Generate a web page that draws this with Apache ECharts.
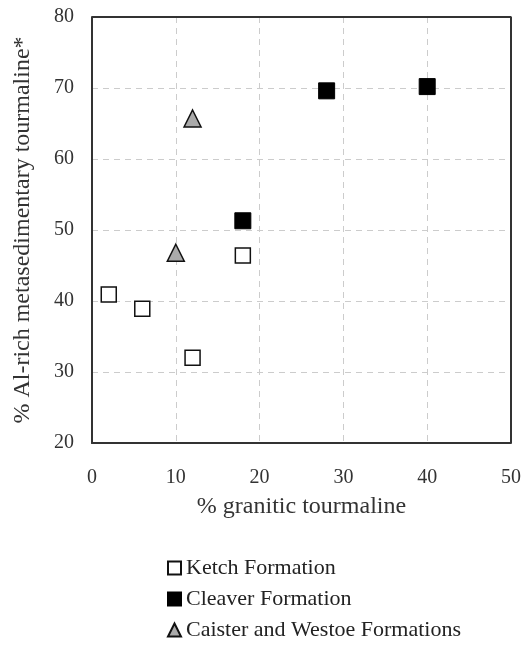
<!DOCTYPE html>
<html>
<head>
<meta charset="utf-8">
<script src="https://cdn.jsdelivr.net/npm/echarts@6/dist/echarts.min.js"></script>
<style>
  html, body { margin: 0; padding: 0; background: #fff; }
  #chart { width: 529px; height: 648px; }
</style>
</head>
<body>
<div id="chart"></div>
<script>
// data: [% granitic, % Al-rich metasedimentary]
const ketch = [[2, 40.9], [6, 38.9], [12, 32], [18, 46.4]];
const cleaver = [[18, 51.3], [28, 69.6], [40, 70.2]];
const caister = [[10, 46.8], [12, 65.7]];

const seriesNames = ['Ketch Formation', 'Cleaver Formation', 'Caister and Westoe Formations'];

const font = 'Liberation Serif';

const chart = echarts.init(document.getElementById('chart'));

const options = {
    backgroundColor: '#fff',
    animation: false,
    textStyle: { fontFamily: font },
    grid: {
        left: 92,
        right: 18,
        top: 17,
        bottom: 205,
        containLabel: false,
        outerBoundsMode: 'none'
    },
    legend: {
        orient: 'vertical',
        left: 167,
        top: 557,
        padding: 0,
        height: 90,
        itemGap: 9,
        itemWidth: 13,
        itemHeight: 13,
        data: seriesNames,
        textStyle: { fontFamily: font, fontSize: 22, lineHeight: 22, color: '#222' }
    },
    xAxis: {
        type: 'value',
        min: 0,
        max: 50,
        interval: 10,
        name: '% granitic tourmaline',
        nameLocation: 'middle',
        nameGap: 52,
        nameTextStyle: { fontFamily: font, fontSize: 24, color: '#333' },
        axisLine: { show: true, lineStyle: { color: '#333', width: 2 } },
        axisTick: { show: false },
        axisLabel: { fontFamily: font, fontSize: 20, color: '#333', margin: 25 },
        splitLine: { show: true, lineStyle: { color: '#ccc', type: [6, 5], width: 1 } }
    },
    yAxis: {
        type: 'value',
        min: 20,
        max: 80,
        interval: 10,
        name: '% Al-rich metasedimentary tourmaline*',
        nameLocation: 'middle',
        nameGap: 57,
        nameTextStyle: { fontFamily: font, fontSize: 24, color: '#333' },
        axisLine: { show: true, lineStyle: { color: '#333', width: 2 } },
        axisTick: { show: false },
        axisLabel: { fontFamily: font, fontSize: 20, color: '#333', margin: 18 },
        splitLine: { show: true, lineStyle: { color: '#ccc', type: [6, 5], width: 1 } }
    },
    series: [
        {
            name: seriesNames[0],
            type: 'scatter',
            data: ketch,
            symbol: 'rect',
            symbolSize: 15,
            itemStyle: { color: '#fff', borderColor: '#111', borderWidth: 1.5, opacity: 1 }
        },
        {
            name: seriesNames[1],
            type: 'scatter',
            data: cleaver,
            symbol: 'rect',
            symbolSize: 16,
            itemStyle: { color: '#000', borderColor: '#000', borderWidth: 1, opacity: 1 }
        },
        {
            name: seriesNames[2],
            type: 'scatter',
            data: caister,
            symbol: 'triangle',
            symbolSize: 17,
            itemStyle: { color: '#aaa', borderColor: '#111', borderWidth: 1.5, opacity: 1 }
        },
        {
            // frame round the plot (top and right edges)
            type: 'line',
            data: [[0, 80], [50, 80], [50, 20]],
            symbol: 'none',
            silent: true,
            lineStyle: { color: '#333', width: 2 },
            z: 1
        }
    ]
};

chart.setOption(options);
</script>
</body>
</html>
